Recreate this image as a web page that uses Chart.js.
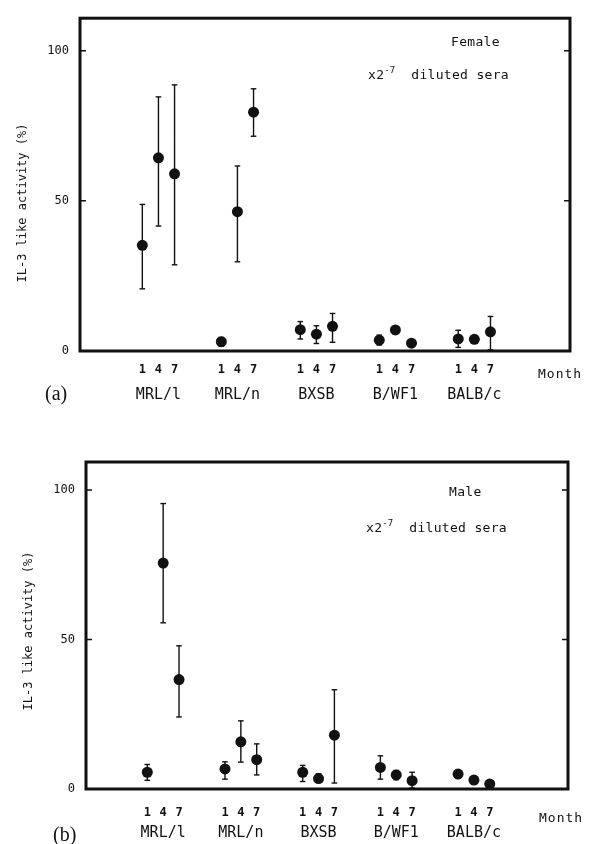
<!DOCTYPE html>
<html>
<head>
<meta charset="utf-8">
<script src="https://cdn.jsdelivr.net/npm/chart.js@4.4.1/dist/chart.umd.min.js"></script>
<style>
  html, body { margin: 0; padding: 0; background: #fff; width: 600px; height: 844px; overflow: hidden; }
  #wrap { position: relative; width: 600px; height: 844px; }
  canvas { position: absolute; left: 0; }
  .t { position: absolute; font-family: 'DejaVu Sans Mono', monospace; color: #111; white-space: nowrap;
       line-height: 1; transform: translateY(-50%); }
  .note { font-size: 13px; letter-spacing: 0.3px; }
  .note sup { font-size: 9px; vertical-align: 0; position: relative; top: -6px; letter-spacing: 0; }
  .month { font-size: 13px; letter-spacing: 1px; }
  .lab { font-family: 'Liberation Serif', 'DejaVu Serif', serif; font-size: 20px; }
  .ytitle { position: absolute; font-family: 'DejaVu Sans Mono', monospace; font-size: 12px; color: #111;
            white-space: nowrap; line-height: 1; transform: translate(-50%, -50%) rotate(-90deg); }
</style>
</head>
<body>
<div id="wrap">
  <canvas id="ca" width="600" height="410" style="top:0"></canvas>
  <canvas id="cb" width="600" height="424" style="top:420px"></canvas>

  <div class="ytitle" style="left:22px; top:203px">IL-3 like activity (%)</div>
  <div class="t note" style="left:451px; top:41px">Female</div>
  <div class="t note" style="left:368px; top:74px">x2<sup>-7</sup>&nbsp; diluted sera</div>
  <div class="t month" style="left:538px; top:373px">Month</div>
  <div class="t lab" style="left:45px; top:393px">(a)</div>

  <div class="ytitle" style="left:28px; top:631px">IL-3 like activity (%)</div>
  <div class="t note" style="left:449px; top:491px">Male</div>
  <div class="t note" style="left:366px; top:527px">x2<sup>-7</sup>&nbsp; diluted sera</div>
  <div class="t month" style="left:539px; top:817px">Month</div>
  <div class="t lab" style="left:53px; top:834px">(b)</div>
</div>

<script>
// ---- data ----
const strains = ['MRL/l', 'MRL/n', 'BXSB', 'B/WF1', 'BALB/c'];
const months = [1, 4, 7];
const yTicks = [0, 50, 100];

// Female, order: strain by strain, months 1,4,7
const femaleMean = [35.2, 64.3, 59.0, 3.1, 46.4, 79.5, 7.1, 5.6, 8.2, 3.6, 7.0, 2.6, 4.0, 3.9, 6.4];
const femaleHigh = [48.8, 84.6, 88.6, 4.5, 61.6, 87.3, 9.8, 8.4, 12.5, 5.3, 8.2, 3.6, 6.9, 5.0, 11.5];
const femaleLow  = [20.7, 41.6, 28.7, 1.6, 29.7, 71.5, 4.0, 2.5, 2.9, 2.0, 5.7, 1.5, 1.2, 2.8, 0.4];

// Male
const maleMean = [5.6, 75.6, 36.6, 6.7, 15.8, 9.8, 5.6, 3.5, 18.0, 7.2, 4.7, 2.8, 5.0, 3.0, 1.7];
const maleHigh = [8.2, 95.5, 47.9, 9.1, 22.8, 15.1, 7.9, 5.1, 33.2, 11.1, 6.2, 5.6, 6.2, 4.2, 2.8];
const maleLow  = [2.9, 55.6, 24.1, 3.3, 9.0, 4.7, 2.5, 2.2, 2.0, 3.3, 3.1, 0.3, 3.8, 1.8, 0.7];

// ---- layout ----
const GROUP_STEP = 14.7;       // x-units between strain groups
const X_MIN = -10.6, X_MAX = 80.6;
const INK = '#111';
const MONO = "'DejaVu Sans Mono', monospace";

const framePlugin = {
  id: 'frame',
  beforeDatasetsDraw(chart) {
    const { ctx, chartArea: a, scales } = chart;
    ctx.save();
    ctx.strokeStyle = INK;
    ctx.lineWidth = 3;
    ctx.strokeRect(a.left, a.top, a.right - a.left, a.bottom - a.top);
    ctx.lineWidth = 1.5;
    yTicks.filter(v => v > 0).forEach(v => {
      const py = scales.y.getPixelForValue(v);
      ctx.beginPath();
      ctx.moveTo(a.left, py); ctx.lineTo(a.left + 6, py);
      ctx.moveTo(a.right, py); ctx.lineTo(a.right - 6, py);
      ctx.stroke();
    });
    ctx.restore();
  }
};

function makeChart(id, mean, high, low, cfg) {
  const pts = [], bars = [], monthTicks = [], groupTicks = [];
  strains.forEach((s, g) => {
    groupTicks.push(g * GROUP_STEP + months[1]);
    months.forEach((m, k) => {
      const i = g * months.length + k;
      const x = g * GROUP_STEP + m;
      monthTicks.push(x);
      pts.push({ x, y: mean[i] });
      bars.push({ x, y: low[i] }, { x, y: high[i] }, { x, y: null });
    });
  });

  return new Chart(document.getElementById(id), {
    type: 'scatter',
    data: {
      datasets: [
        { type: 'scatter', data: pts, pointRadius: 5.5, pointHoverRadius: 5.5,
          backgroundColor: INK, borderWidth: 0, clip: false },
        { type: 'line', data: bars, showLine: true, spanGaps: false, borderColor: INK, borderWidth: 1.4,
          pointStyle: 'line', pointRadius: 2.8, pointHoverRadius: 2.8, pointBorderColor: INK,
          pointBorderWidth: 1.4, clip: false, fill: false, tension: 0 }
      ]
    },
    options: {
      responsive: false,
      animation: false,
      events: [],
      layout: { padding: { top: cfg.top, right: cfg.right, left: 0, bottom: 0 } },
      plugins: { legend: { display: false }, tooltip: { enabled: false } },
      scales: {
        x: {
          type: 'linear', position: 'bottom', weight: 1, min: X_MIN, max: X_MAX,
          grid: { display: false, drawTicks: false }, border: { display: false },
          afterBuildTicks: s => { s.ticks = monthTicks.map(v => ({ value: v })); },
          afterFit: s => { s.height = cfg.h1; },
          ticks: { autoSkip: false, maxRotation: 0, padding: cfg.p1, color: INK,
                   font: { family: MONO, size: 12, weight: 'bold' },
                   callback: (v, i) => String(months[i % months.length]) }
        },
        x2: {
          type: 'linear', position: 'bottom', weight: 2, min: X_MIN, max: X_MAX,
          grid: { display: false, drawTicks: false }, border: { display: false },
          afterBuildTicks: s => { s.ticks = groupTicks.map(v => ({ value: v })); },
          afterFit: s => { s.height = cfg.h2; },
          ticks: { autoSkip: false, maxRotation: 0, padding: cfg.p2, color: INK,
                   font: { family: MONO, size: 15 },
                   callback: (v, i) => strains[i] }
        },
        y: {
          type: 'linear', position: 'left', min: 0, max: cfg.yMax,
          grid: { display: false, drawTicks: false }, border: { display: false },
          afterBuildTicks: s => { s.ticks = yTicks.map(v => ({ value: v })); },
          afterFit: s => { s.width = cfg.left; },
          ticks: { padding: 11, color: INK, font: { family: MONO, size: 12 } }
        }
      }
    },
    plugins: [framePlugin]
  });
}

makeChart('ca', femaleMean, femaleHigh, femaleLow,
  { top: 8, right: 30, left: 80, h1: 30, h2: 29, p1: 12, p2: 5, yMax: 110.8 });
makeChart('cb', maleMean, maleHigh, maleLow,
  { top: 42, right: 32, left: 86, h1: 32, h2: 23, p1: 17, p2: 3, yMax: 109.4 });
</script>
</body>
</html>
